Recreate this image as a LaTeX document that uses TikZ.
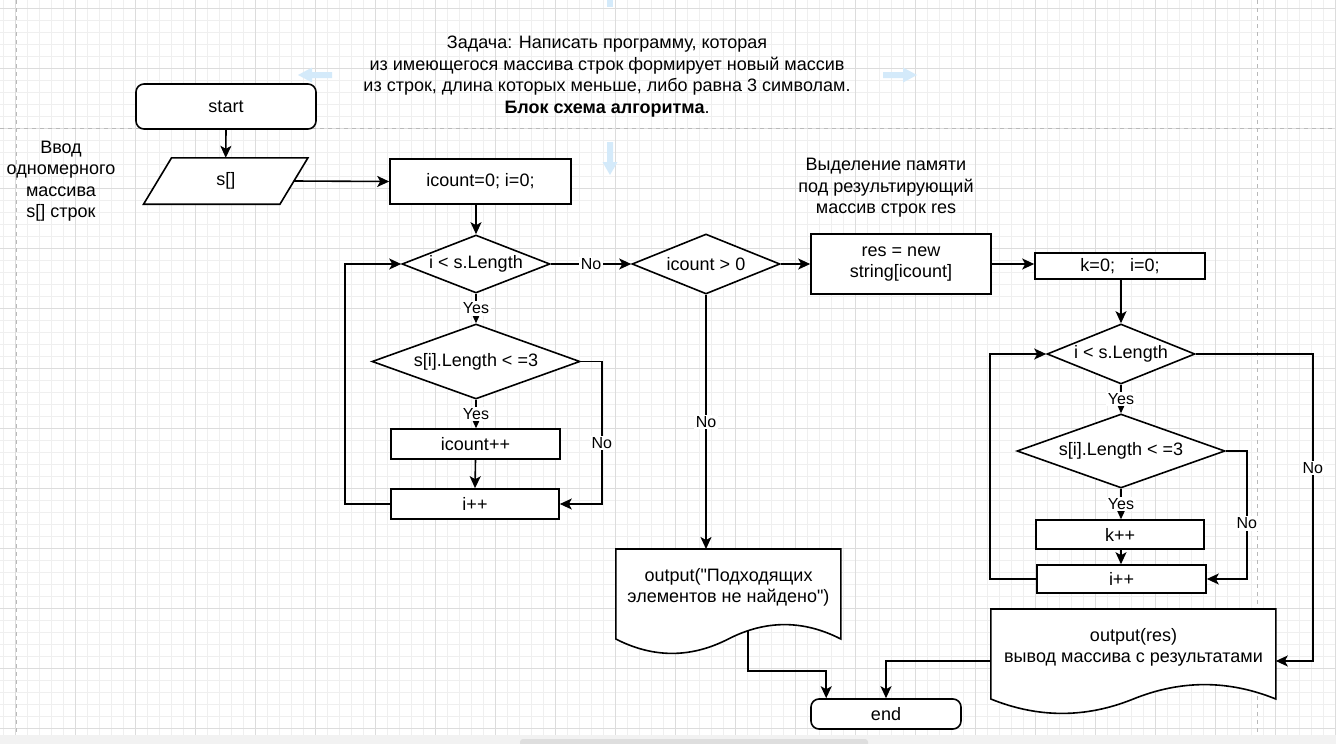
\documentclass[tikz,border=0pt]{standalone}
\usepackage{fontspec}
\setmainfont{Liberation Sans}[Ligatures=TeXOff]
\usetikzlibrary{arrows.meta,shapes.geometric,calc}
\definecolor{minorgrid}{RGB}{239,239,239}
\definecolor{majorgrid}{RGB}{220,220,220}
\definecolor{pageline}{RGB}{185,185,185}
\definecolor{hoverblue}{RGB}{212,234,250}
\definecolor{stripgray}{RGB}{242,242,242}
\definecolor{bargray}{RGB}{222,222,222}
\pgfdeclarelayer{gridlayer}
\pgfdeclarelayer{shapelayer}
\pgfsetlayers{gridlayer,shapelayer,main}
\tikzset{
  txt/.style={font=\fontsize{18}{21.5}\selectfont, align=center},
  box/.style={txt, draw, fill=white, line width=1.6pt, inner sep=0pt},
  rbox/.style={box, rounded corners=8pt},
  dia/.style={diamond, draw, fill=white, line width=1.6pt, inner sep=0pt, label={[txt]center:{#1}}},
  lbl/.style={font=\fontsize{16}{19}\selectfont, fill=white, inner sep=1.5pt},
  conn/.style={line width=1.6pt, -{Stealth[length=12pt,width=11pt,inset=3pt]}},
  outline/.style={draw, fill=white, line width=1.6pt, line join=miter},
}
\begin{document}
\begin{tikzpicture}[x=1pt,y=-1pt]
\useasboundingbox (0,0) rectangle (1336,744);
% ---------- canvas grid ----------
\begin{pgfonlayer}{gridlayer}
\fill[white] (0,0) rectangle (1336,735);
\foreach \x in {3,15,...,1335} {\draw[minorgrid,line width=1pt] (\x,0) -- (\x,735);}
\foreach \y in {8,20,...,728} {\draw[minorgrid,line width=1pt] (0,\y) -- (1336,\y);}
\foreach \x in {15,75,...,1335} {\draw[majorgrid,line width=1pt] (\x,0) -- (\x,735);}
\foreach \y in {8,68,...,728} {\draw[majorgrid,line width=1pt] (0,\y) -- (1336,\y);}
\draw[pageline,line width=1pt,dash pattern=on 4pt off 4pt] (16,0) -- (16,735);
\draw[pageline,line width=1pt,dash pattern=on 4pt off 4pt] (1257,0) -- (1257,735);
\draw[pageline,line width=1pt,dash pattern=on 4pt off 4pt] (0,128) -- (1336,128);
\fill[stripgray] (0,735) rectangle (1336,744);
\fill[bargray,rounded corners=3pt] (520,739) rectangle (868,750);
% hover arrows
\fill[hoverblue] (298,75) -- (312,67.5) -- (312,72) -- (332,72) -- (332,78) -- (312,78) -- (312,82.5) -- cycle;
\fill[hoverblue] (917,75) -- (903,67.5) -- (903,72) -- (883,72) -- (883,78) -- (903,78) -- (903,82.5) -- cycle;
\fill[hoverblue] (610,175) -- (602.5,162) -- (607,162) -- (607,142) -- (613,142) -- (613,162) -- (617.5,162) -- cycle;
\fill[hoverblue] (606.5,0) rectangle (613,7);
\end{pgfonlayer}
% ---------- free texts ----------
\node[txt] (title) at (607,76.5) {Задача: Написать программу, которая\\из имеющегося массива строк формирует новый массив\\из строк, длина которых меньше, либо равна 3 символам.\\\textbf{Блок схема алгоритма}.};
\node[txt] (inlbl) at (61,181) {Ввод\\одномерного\\массива\\s[] строк};
\node[txt] (memlbl) at (886,188) {Выделение памяти\\под результирующий\\массив строк res};
% ---------- left part ----------
\node[rbox, minimum width=180pt, minimum height=45pt] (start) at (226,106.5) {start};
\node[txt, inner sep=0pt, minimum width=136pt, minimum height=46pt] (s) at (225.75,181) {s[]};
\node[box, minimum width=181pt, minimum height=45pt] (ic) at (480.5,181.5) {icount=0; i=0;};
\node[dia={i < s.Length}, minimum width=148pt, minimum height=58pt] (d1) at (476,264) {};
\node[dia={s[i].Length < =3}, minimum width=208pt, minimum height=75pt] (d2) at (476,361.5) {};
\node[box, minimum width=169pt, minimum height=30pt] (inc) at (475.5,444) {icount++};
\node[box, minimum width=168pt, minimum height=30pt] (ip) at (475,504) {i++};
% ---------- middle ----------
\node[dia={icount > 0}, minimum width=148pt, minimum height=60pt] (d3) at (706,264) {};
\node[box, minimum width=180pt, minimum height=60pt] (res) at (901,264) {res = new\\string[icount]};
\node[txt, inner sep=0pt, minimum width=225pt, minimum height=76pt, anchor=north] (o1) at (728.5,549) {output("Подходящих\\элементов не найдено")};
\node[rbox, minimum width=150pt, minimum height=30pt] (end) at (886,714) {end};
% ---------- right part ----------
\node[box, minimum width=170pt, minimum height=26pt] (k) at (1120,266) {k=0;\ \ \ i=0;};
\node[dia={i < s.Length}, minimum width=148pt, minimum height=60pt] (d4) at (1121,354) {};
\node[dia={s[i].Length < =3}, minimum width=208pt, minimum height=74pt] (d5) at (1121,451) {};
\node[box, minimum width=168pt, minimum height=29pt] (kp) at (1120,534.5) {k++};
\node[box, minimum width=169pt, minimum height=28pt] (ip2) at (1121.5,579) {i++};
\node[txt, inner sep=0pt, minimum width=285pt, minimum height=76pt, anchor=north] (o2) at (1133.5,609) {output(res)\\вывод массива с результатами};
% ---------- custom outlines ----------
\begin{pgfonlayer}{shapelayer}
\draw[outline] ([xshift=14pt]s.north west) -- ([xshift=14pt]s.north east) -- ([xshift=-14pt]s.south east) -- ([xshift=-14pt]s.south west) -- cycle;
\begin{scope}[shift={(o1.north west)}]
\draw[outline] (0,0) -- (225,0) -- (225,90) .. controls (187.5,70.8) and (150,70.8) .. (112.5,90) .. controls (75,109.2) and (37.5,109.2) .. (0,90) -- cycle;
\coordinate (o1b) at (132,82);
\end{scope}
\begin{scope}[shift={(o2.north west)}]
\draw[outline] (0,0) -- (285,0) -- (285,90) .. controls (237.5,70.8) and (190,70.8) .. (142.5,90) .. controls (95,109.2) and (47.5,109.2) .. (0,90) -- cycle;
\coordinate (o2r) at (285,52);
\coordinate (o2l) at (0,52);
\end{scope}
\end{pgfonlayer}
% ---------- connectors ----------
\draw[conn] (start.south) -- (s.north);
\draw[conn] (s.east) -- (ic.west);
\draw[conn] (d1.north |- ic.south) -- (d1.north);
\draw[conn] (d1.south) -- (d2.north) node[lbl,midway] {Yes};
\draw[conn] (d2.south) -- (d2.south |- inc.north) node[lbl,midway] {Yes};
\draw[conn] (inc.south) -- (ip.north);
\draw[conn] (d2.east) -- ++(21,0) |- (ip.east) node[lbl,pos=0.285] {No};
\draw[conn] (ip.west) -- ++(-45,0) |- (d1.west);
\draw[conn] (d1.east) -- (d3.west) node[lbl,midway] {No};
\draw[conn] (d3.east) -- (res.west);
\draw[conn] (res.east) -- (res.east -| k.west);
\draw[conn] (d3.south) -- (d3.south |- o1.north) node[lbl,midway] {No};
\draw[conn] (d4.north |- k.south) -- (d4.north);
\draw[conn] (d4.south) -- (d5.north) node[lbl,midway] {Yes};
\draw[conn] (d5.south) -- (d5.south |- kp.north) node[lbl,midway] {Yes};
\draw[conn] (d5.south |- kp.south) -- (d5.south |- ip2.north);
\draw[conn] (d5.east) -- ++(21,0) |- (ip2.east) node[lbl,pos=0.283] {No};
\draw[conn] (ip2.west) -- ++(-46,0) |- (d4.west);
\draw[conn] (d4.east) -- ++(117,0) |- (o2r) node[lbl,pos=0.185] {No};
\draw[conn] (o1b) -- ++(0,40) -| ([xshift=16pt]end.north west);
\draw[conn] (o2l) -| (end.north);
\end{tikzpicture}
\end{document}
